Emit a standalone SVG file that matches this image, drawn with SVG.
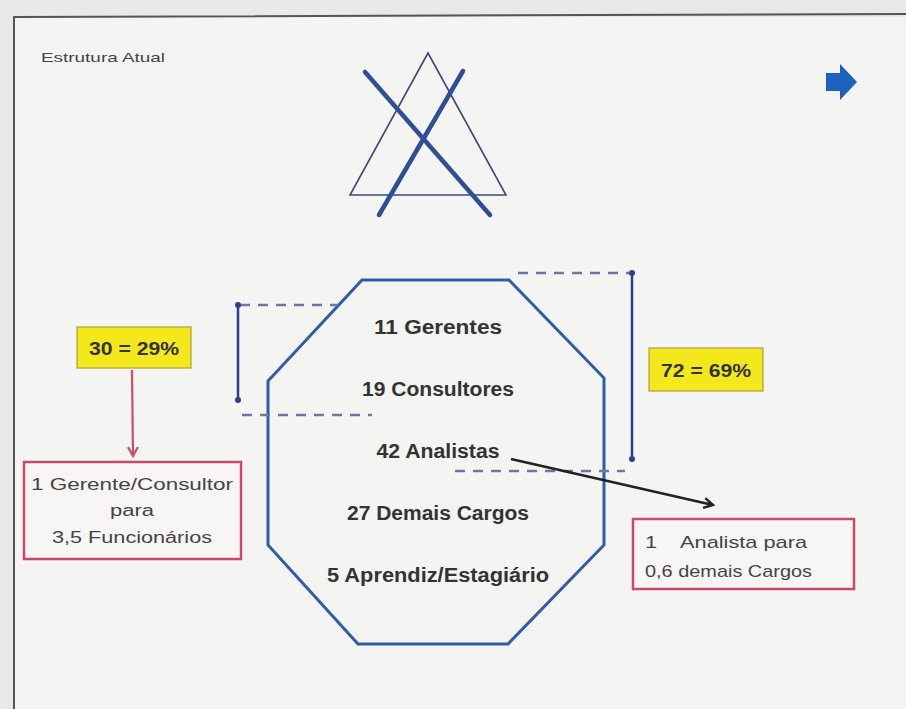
<svg xmlns="http://www.w3.org/2000/svg" width="906" height="709" viewBox="0 0 906 709">
  <defs>
    <style>
      .lbl { font-family: "Liberation Sans", Arial, sans-serif; font-weight: bold; fill: #333; }
      .note { font-family: "Liberation Sans", Arial, sans-serif; fill: #444; }
      .dash { stroke: #6a78a6; stroke-width: 2.5; stroke-dasharray: 10 8; fill: none; }
      .brk { stroke: #2f3f8f; stroke-width: 2.5; fill: none; }
      .dot { fill: #2f3f8f; }
      .yel { fill: #f4e81c; stroke: #a8a040; stroke-width: 1.2; }
      .pink { fill: #f7f6f4; stroke: #c84a6a; stroke-width: 2.5; }
    </style>
    <marker id="mBlack" viewBox="0 0 12 12" refX="10" refY="6" markerWidth="12" markerHeight="12" markerUnits="userSpaceOnUse" orient="auto">
      <path d="M1,1 L10,6 L1,11" fill="none" stroke="#222" stroke-width="2.4"/>
    </marker>
    <marker id="mPink" viewBox="0 0 12 12" refX="10" refY="6" markerWidth="12" markerHeight="12" markerUnits="userSpaceOnUse" orient="auto">
      <path d="M1,1 L10,6 L1,11" fill="none" stroke="#c8506c" stroke-width="2.2"/>
    </marker>
  </defs>

  <!-- background / slide -->
  <rect x="0" y="0" width="906" height="709" fill="#e9e9e7"/>
  <rect x="14" y="17" width="892" height="692" fill="#f4f4f2"/>
  <path d="M14,709 L14,17 L906,14" fill="none" stroke="#555" stroke-width="2"/>

  <g id="title">
    <text x="41" y="62" font-family="Liberation Sans, Arial, sans-serif" font-size="13" fill="#444" textLength="124" lengthAdjust="spacingAndGlyphs">Estrutura Atual</text>
  </g>

  <g id="crossed-triangle">
    <polygon points="428,53 350,195 506,195" fill="none" stroke="#3d4a78" stroke-width="1.6"/>
    <line x1="365" y1="72" x2="490" y2="215" stroke="#2c4f98" stroke-width="4.5" stroke-linecap="round"/>
    <line x1="463" y1="71" x2="379" y2="215" stroke="#2c4f98" stroke-width="4.5" stroke-linecap="round"/>
  </g>

  <g id="next-arrow">
    <polygon points="826,73 840,73 840,64 857,82 840,100 840,91 826,91" fill="#1a62bd"/>
  </g>

  <g id="octagon">
    <polygon points="362,280 509,280 604,378 604,545 508,644 358,644 268,545 268,381" fill="none" stroke="#2f5ca8" stroke-width="3"/>
    <text class="lbl" x="438" y="334" font-size="20" text-anchor="middle" textLength="128" lengthAdjust="spacingAndGlyphs">11 Gerentes</text>
    <text class="lbl" x="438" y="396" font-size="20" text-anchor="middle" textLength="152" lengthAdjust="spacingAndGlyphs">19 Consultores</text>
    <text class="lbl" x="438" y="458" font-size="20" text-anchor="middle" textLength="123" lengthAdjust="spacingAndGlyphs">42 Analistas</text>
    <text class="lbl" x="438" y="520" font-size="20" text-anchor="middle" textLength="182" lengthAdjust="spacingAndGlyphs">27 Demais Cargos</text>
    <text class="lbl" x="438" y="582" font-size="20" text-anchor="middle" textLength="222" lengthAdjust="spacingAndGlyphs">5 Aprendiz/Estagiário</text>
  </g>

  <g id="label-30">
    <rect class="yel" x="77" y="327" width="114" height="41"/>
    <text class="lbl" x="134" y="355" font-size="18" text-anchor="middle" textLength="90" lengthAdjust="spacingAndGlyphs">30 = 29%</text>
  </g>

  <g id="label-72">
    <rect class="yel" x="649" y="348" width="114" height="43"/>
    <text class="lbl" x="706" y="377" font-size="18" text-anchor="middle" textLength="90" lengthAdjust="spacingAndGlyphs">72 = 69%</text>
  </g>

  <g id="box-gerente">
    <rect class="pink" x="24" y="462" width="217" height="97"/>
    <text class="note" x="132" y="490" font-size="16" text-anchor="middle" textLength="202" lengthAdjust="spacingAndGlyphs">1 Gerente/Consultor</text>
    <text class="note" x="132" y="516" font-size="16" text-anchor="middle" textLength="44" lengthAdjust="spacingAndGlyphs">para</text>
    <text class="note" x="132" y="543" font-size="16" text-anchor="middle" textLength="160" lengthAdjust="spacingAndGlyphs">3,5 Funcionários</text>
  </g>

  <g id="box-analista">
    <rect class="pink" x="633" y="519" width="221" height="70"/>
    <text class="note" x="645" y="548" font-size="17" style="white-space:pre" xml:space="preserve" textLength="162" lengthAdjust="spacingAndGlyphs">1    Analista para</text>
    <text class="note" x="645" y="577" font-size="17" textLength="167" lengthAdjust="spacingAndGlyphs">0,6 demais Cargos</text>
  </g>

  <g id="connectors">
    <!-- left bracket -->
    <line class="dash" x1="240" y1="305" x2="338" y2="305"/>
    <line class="dash" x1="242" y1="415" x2="372" y2="415"/>
    <line class="brk" x1="238" y1="305" x2="238" y2="400"/>
    <circle class="dot" cx="238" cy="305" r="3"/>
    <circle class="dot" cx="238" cy="400" r="3"/>
    <!-- right bracket -->
    <line class="dash" x1="518" y1="273" x2="630" y2="273"/>
    <line class="dash" x1="455" y1="471" x2="625" y2="471"/>
    <line class="brk" x1="632" y1="273" x2="632" y2="459"/>
    <circle class="dot" cx="632" cy="273" r="3"/>
    <circle class="dot" cx="632" cy="459" r="3"/>
    <!-- arrows -->
    <line x1="132" y1="370" x2="133" y2="456" stroke="#c8506c" stroke-width="2.2" marker-end="url(#mPink)"/>
    <line x1="511" y1="459" x2="713" y2="505" stroke="#222" stroke-width="2.6" marker-end="url(#mBlack)"/>
  </g>
</svg>
